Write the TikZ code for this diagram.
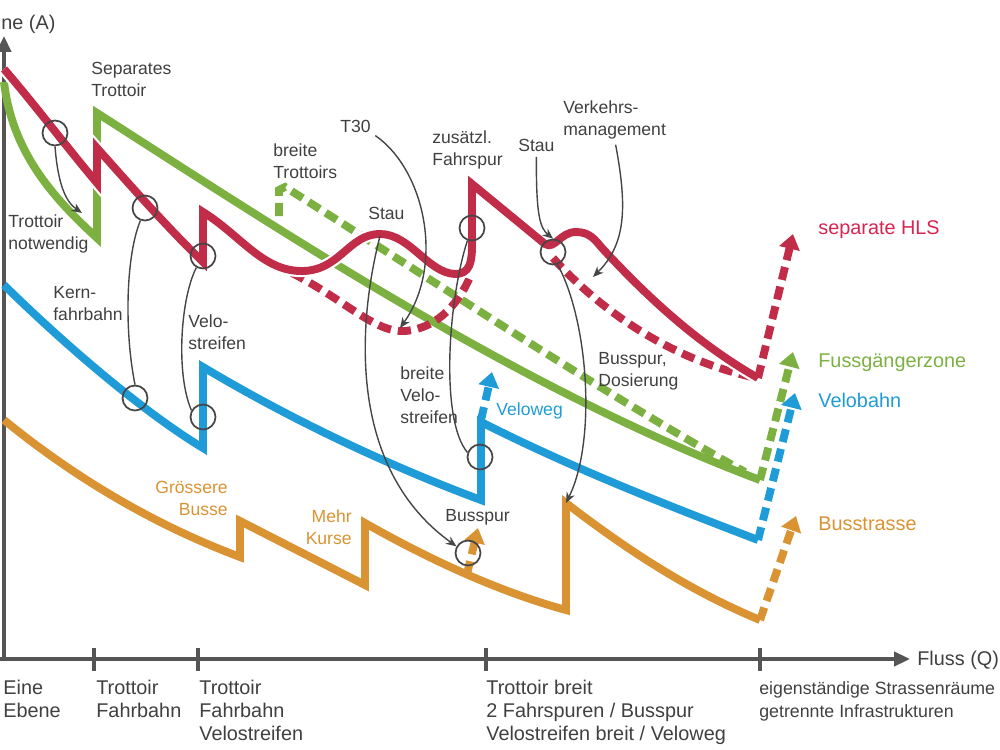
\documentclass[tikz,border=0pt]{standalone}
\usepackage{fontspec}
\setmainfont{Liberation Sans}
\usetikzlibrary{arrows.meta}
\definecolor{cred}{RGB}{193,44,72}
\definecolor{cgreen}{RGB}{124,177,66}
\definecolor{cblue}{RGB}{31,156,215}
\definecolor{corange}{RGB}{218,147,50}
\definecolor{chls}{RGB}{214,37,80}
\definecolor{ctext}{RGB}{64,64,64}
\definecolor{caxis}{RGB}{85,85,85}
\definecolor{cconn}{RGB}{70,70,70}
\begin{document}
\begin{tikzpicture}[x=0.02cm,y=-0.02cm,
  curve/.style={line width=4.5pt,line join=miter,miter limit=10},
  cased/.style={curve,preaction={draw=white,line width=7pt,line join=miter}},
  dashcurve/.style={curve,dash pattern=on 7.5pt off 4pt},
  dasharrow/.style={line width=4.5pt,dash pattern=on 7.5pt off 4pt,-{Triangle[width=11.5pt,length=8.5pt]}},
  ring/.style={circle,draw=cconn,line width=1pt,minimum size=0.5cm,inner sep=0pt},
  conn/.style={draw=cconn,line width=0.8pt},
  connarrow/.style={conn,-{Stealth[length=6pt,width=5pt]}},
  lbl/.style={font=\fontsize{10}{12.5}\selectfont,text=ctext,inner sep=0pt,align=left,anchor=west},
  lblr/.style={font=\fontsize{10}{12.5}\selectfont,inner sep=0pt,align=right,anchor=east},
  legend/.style={font=\fontsize{11.3}{13}\selectfont,inner sep=0pt,anchor=west},
  axlbl/.style={font=\fontsize{11.3}{13}\selectfont,text=ctext,inner sep=0pt,align=left,anchor=north west},
  axis/.style={draw=caxis,line width=2pt},
  tick/.style={draw=caxis,line width=2pt}
]
\useasboundingbox (0,0) rectangle (1000,750);
\clip (0,0) rectangle (1000,750);

% axes
\coordinate (O) at (4,659);
\coordinate (ytop) at (4,36);
\coordinate (xend) at (910,659);
\draw[axis,-{Triangle[width=8pt,length=9pt]}] (O) -- (ytop);
\draw[axis,-{Triangle[width=8pt,length=9pt]}] (0,659) -- (xend);
\foreach \tx in {94,198,486,760}{
  \draw[tick] (\tx,648) -- (\tx,671);
}

% green
\draw[curve,cgreen] (4,82) .. controls (12,150) and (50,195) .. (97,238) -- (97,113)
   .. controls (280,230) and (520,390) .. (760,480);
\draw[dashcurve,cgreen] (279,216) -- (279,190) -- (285,187)
   .. controls (420,272) and (600,392) .. (745,472);

% blue
\draw[curve,cblue] (4,285) .. controls (60,340) and (140,410) .. (203,448) -- (203,367)
   .. controls (300,425) and (400,470) .. (481,500) -- (481,422)
   .. controls (580,472) and (680,510) .. (758,540);

% orange
\draw[curve,corange] (4,420) .. controls (80,482) and (160,527) .. (240,557) -- (240,521)
   -- (365,585) -- (365,523)
   .. controls (430,560) and (500,592) .. (566,610) -- (566,503)
   .. controls (640,560) and (700,595) .. (760,620);

% red dashed
\draw[dashcurve,cred] (292,273) .. controls (345,300) and (375,333) .. (405,331)
   .. controls (440,328) and (460,300) .. (470,277);
\draw[dashcurve,cred] (553,258) .. controls (600,310) and (670,360) .. (757,378);

% red solid
\draw[cased,cred] (4,69) .. controls (35,105) and (65,145) .. (97,183) -- (97,148)
   .. controls (130,185) and (165,225) .. (203,262) -- (203,212)
   .. controls (240,235) and (262,270) .. (300,271)
   .. controls (340,272) and (348,234) .. (380,234)
   .. controls (410,234) and (428,273) .. (455,274)
   .. controls (470,274) and (472,262) .. (472,245) -- (472,184) -- (545,244)
   .. controls (555,250) and (560,232) .. (576,232)
   .. controls (590,232) and (595,240) .. (602,248)
   .. controls (650,300) and (700,345) .. (758,378);

% dashed arrows
\draw[dasharrow,cred] (758,378) -- (793,234);
\draw[dasharrow,cgreen] (760,480) -- (793,352);
\draw[dasharrow,cblue] (758,540) -- (795,393);
\draw[dasharrow,corange] (760,620) -- (796,516);
\draw[dasharrow,cblue] (481,420) -- (492,372);
\draw[dasharrow,corange] (467,574) -- (478,528);

% circles
\node[ring] (c1) at (55,133) {};
\node[ring] (c2) at (145,208) {};
\node[ring] (c3) at (203,256) {};
\node[ring] (c4) at (472,228) {};
\node[ring] (c5) at (553,252) {};
\node[ring] (c6) at (468,553) {};
\node[ring] (c7) at (135,398) {};
\node[ring] (c8) at (203,417) {};
\node[ring] (c9) at (480,457) {};

% labels
\node[lbl] (sep) at (91,79) {Separates\\Trottoir};
\node[lbl] (notw) at (8,234) {Trottoir\\notwendig};
\node[lbl] (brT) at (273,161) {breite\\Trottoirs};
\node[lbl] (T30) at (340,126) {T30};
\node[lbl] (stauA) at (368,213) {Stau};
\node[lbl] (zus) at (432,150) {zusätzl.\\Fahrspur};
\node[lbl] (stauB) at (518,145) {Stau};
\node[lbl] (vm) at (563,120) {Verkehrs-\\management};
\node[lbl] (kern) at (53,304) {Kern-\\fahrbahn};
\node[lbl] (velo) at (188,332) {Velo-\\streifen};
\node[lbl] (brV) at (400,395) {breite\\Velo-\\streifen};
\node[lbl] (bsp) at (445,517) {Busspur};
\node[lbl] (bd) at (598,371) {Busspur,\\Dosierung};
\node[lbl,text=cblue] (vw) at (496,411) {Veloweg};
\node[lblr,text=corange] (gb) at (228,498) {Grössere\\Busse};
\node[lblr,text=corange] (mk) at (352,527) {Mehr\\Kurse};

\node[legend,text=chls] (hls) at (818,230) {separate HLS};
\node[legend,text=cgreen] (fgz) at (818,363) {Fussgängerzone};
\node[legend,text=cblue] (vb) at (818,400) {Velobahn};
\node[legend,text=corange] (bst) at (818,524) {Busstrasse};

\node[legend,text=ctext] (ya) at (1,24) {ne (A)};
\node[legend,text=ctext] (xq) at (917,660) {Fluss (Q)};
\node[axlbl] (a1) at (3,680) {Eine\\Ebene};
\node[axlbl] (a2) at (96,680) {Trottoir\\Fahrbahn};
\node[axlbl] (a3) at (199,680) {Trottoir\\Fahrbahn\\Velostreifen};
\node[axlbl] (a4) at (486,680) {Trottoir breit\\2 Fahrspuren / Busspur\\Velostreifen breit / Veloweg};
\node[axlbl,font=\fontsize{10.1}{13}\selectfont] (a5) at (759,681) {eigenständige Strassenräume\\getrennte Infrastrukturen};

% connector end points
\coordinate (t1) at (82,213);
\coordinate (stau1) at (380,236);
\coordinate (t30tip) at (400,328);
\coordinate (vmtip) at (593,277);
\coordinate (opeak) at (566,503);

% connectors
\draw[connarrow] (c1.south) .. controls (58,185) and (66,202) .. (t1);
\draw[conn] (c2.250) .. controls (126,255) and (124,330) .. (c7.north);
\draw[conn] (c3.240) .. controls (180,300) and (176,375) .. (c8.150);
\draw[conn] (c4.250) .. controls (448,300) and (440,420) .. (c9.160);
\draw[connarrow] (stau1) .. controls (356,330) and (350,470) .. (c6.150);
\draw[connarrow,shorten <=3pt] (T30.south east) .. controls (425,170) and (445,265) .. (t30tip);
\draw[connarrow,shorten <=3pt] (stauB.south) .. controls (536,215) and (540,228) .. (c5.north);
\draw[connarrow,shorten <=3pt] (vm.south) .. controls (628,210) and (625,245) .. (vmtip);
\draw[connarrow] (c5.290) .. controls (588,320) and (597,440) .. (opeak);
\end{tikzpicture}
\end{document}
